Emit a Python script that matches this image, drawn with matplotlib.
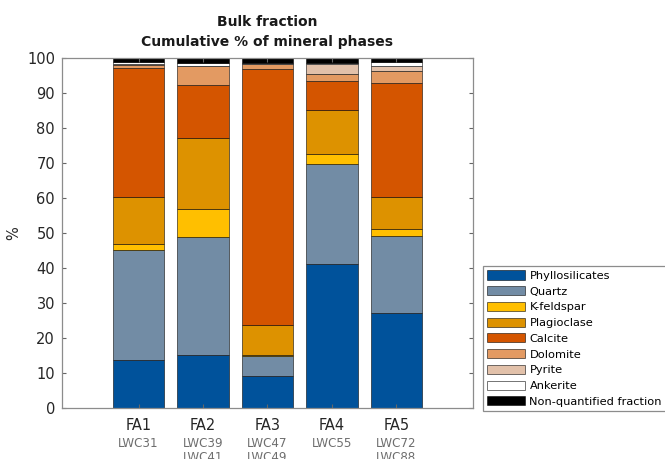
import numpy as np
import matplotlib
matplotlib.use("Agg")
import matplotlib.pyplot as plt

# values (% of bulk fraction)
groups = ["FA1", "FA2", "FA3", "FA4", "FA5"]
samples = ["LWC31", "LWC39\nLWC41", "LWC47\nLWC49", "LWC55", "LWC72\nLWC88"]
phases = ["Phyllosilicates", "Quartz", "K-feldspar", "Plagioclase", "Calcite",
          "Dolomite", "Pyrite", "Ankerite", "Non-quantified fraction"]

phyllosilicates = [13.7, 15.3, 9.1, 41.1, 27.2]
quartz = [31.6, 33.5, 5.8, 28.5, 21.9]
kfeldspar = [1.7, 8.2, 0.4, 3.0, 2.0]
plagioclase = [13.3, 20.3, 8.4, 12.7, 9.1]
calcite = [36.8, 15.0, 73.2, 8.1, 32.6]
dolomite = [1.0, 5.3, 1.5, 2.0, 3.5]
pyrite = [0.3, 0.2, 0.0, 2.8, 1.4]
ankerite = [0.5, 0.8, 0.1, 0.3, 1.1]
nonquant = [1.1, 1.4, 1.5, 1.5, 1.2]

colors = ["#00529b", "#728ca5", "#ffbf00", "#dd9200", "#d45500",
          "#e39a62", "#e2c1aa", "#ffffff", "#000000"]

series = [phyllosilicates, quartz, kfeldspar, plagioclase, calcite,
          dolomite, pyrite, ankerite, nonquant]

fig = plt.figure(figsize=(6.65, 4.59), dpi=100)
ax = fig.add_axes([0.0932, 0.111, 0.618, 0.7625])

x = np.arange(1, len(groups) + 1)
bottom = np.zeros(len(groups))
for name, vals, c in zip(phases, series, colors):
    ax.bar(x, vals, 0.8, bottom=bottom, color=c, edgecolor=(0, 0, 0, 0.55),
           linewidth=0.7, label=name)
    bottom += np.array(vals)

ax.set_ylim(0, 100)
ax.set_xlim(1 - 1.19, 5 + 1.19)
ax.set_yticks(np.arange(0, 101, 10))
ax.set_xticks(x)
ax.set_xticklabels(groups, fontsize=10.5, color="#262626")
ax.tick_params(axis="y", labelsize=10.5, labelcolor="#262626")
ax.tick_params(direction="in", length=3, color="#666666", top=True, right=True, pad=5)
ax.tick_params(axis="x", pad=7)
for sp in ax.spines.values():
    sp.set_color("#8c8c8c")
    sp.set_linewidth(0.9)

# sample names under each group (second line is cut at the bottom edge, as in the source)
for xi, s in zip(x, samples):
    ax.annotate(s, xy=(xi, 0), xycoords=("data", "axes fraction"),
                xytext=(0, -21), textcoords="offset points",
                ha="center", va="top", fontsize=8.6, color="#6e6e6e",
                linespacing=1.1, annotation_clip=False)

ax.set_ylabel("%", fontsize=10.5, color="#262626", labelpad=4)
ax.set_title("Bulk fraction\nCumulative % of mineral phases",
             fontsize=10, fontweight="bold", color="#1a1a1a", pad=9,
             linespacing=1.5)

leg = fig.legend(loc="lower left", bbox_to_anchor=(0.726, 0.104),
                 fontsize=8.2, frameon=True, fancybox=False, framealpha=1,
                 edgecolor="#8c8c8c", handlelength=3.3, handleheight=0.85,
                 handletextpad=0.4, labelspacing=0.46, borderpad=0.4,
                 borderaxespad=0)
leg.get_frame().set_linewidth(0.9)

plt.savefig("out.png", dpi=100)
